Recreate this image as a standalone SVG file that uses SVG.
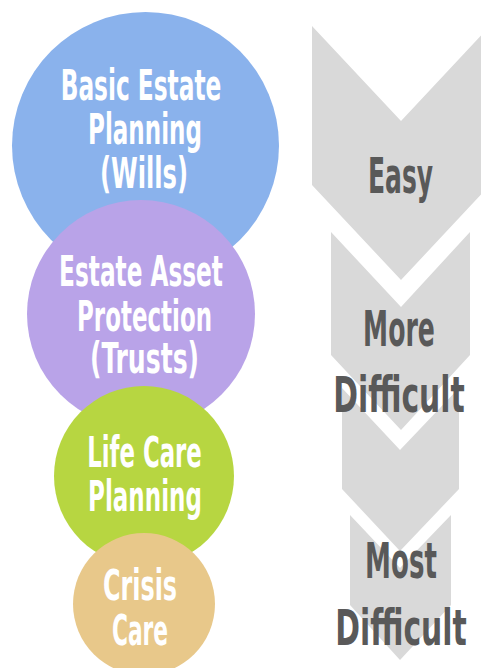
<svg xmlns="http://www.w3.org/2000/svg" width="481" height="668" viewBox="0 0 481 668">
<style>
.chev{fill:#D9D9D9}
.lbl{font-family:"DejaVu Sans Condensed","Liberation Sans",Arial,sans-serif;font-weight:bold;fill:#FFFFFF;font-size:42px;text-anchor:middle}
.rt{font-family:"DejaVu Sans Condensed","Liberation Sans",Arial,sans-serif;font-weight:bold;fill:#595959;font-size:49px;text-anchor:middle}
</style>
<rect width="481" height="668" fill="#FFFFFF"/>
<g id="chevrons">
<polygon id="chev1" class="chev" points="312,26 401,121 490,26 490,185 401,280 312,185"/>
<polygon id="chev2" class="chev" points="331,232 401,307 470,232 470,355 401,430 331,355"/>
<polygon id="chev3" class="chev" points="342,388 400,450 459,388 459,489 400,551 342,489"/>
<polygon id="chev4" class="chev" points="350,515 400,568 451,515 451,605 400,660 350,605"/>
</g>
<g id="node-basic">
<circle cx="145.5" cy="145.5" r="133.5" fill="#8AB2EC"/>
<text class="lbl" transform="translate(141,100) scale(0.78,1)" textLength="206" lengthAdjust="spacingAndGlyphs">Basic Estate</text>
<text class="lbl" transform="translate(145,144) scale(0.78,1)" textLength="146" lengthAdjust="spacingAndGlyphs">Planning</text>
<text class="lbl" transform="translate(144,188) scale(0.78,1)" textLength="113" lengthAdjust="spacingAndGlyphs">(Wills)</text>
</g>
<g id="node-asset">
<circle cx="141" cy="314" r="114" fill="#B9A3E8"/>
<text class="lbl" transform="translate(141,286) scale(0.78,1)" textLength="210" lengthAdjust="spacingAndGlyphs">Estate Asset</text>
<text class="lbl" transform="translate(144.5,331) scale(0.78,1)" textLength="173" lengthAdjust="spacingAndGlyphs">Protection</text>
<text class="lbl" transform="translate(144.5,373) scale(0.78,1)" textLength="140" lengthAdjust="spacingAndGlyphs">(Trusts)</text>
</g>
<g id="node-lifecare">
<circle cx="144" cy="476" r="90" fill="#B7D641"/>
<text class="lbl" transform="translate(144.5,467) scale(0.78,1)" textLength="147" lengthAdjust="spacingAndGlyphs">Life Care</text>
<text class="lbl" transform="translate(145,511) scale(0.78,1)" textLength="146" lengthAdjust="spacingAndGlyphs">Planning</text>
</g>
<g id="node-crisis">
<circle cx="144" cy="604" r="71" fill="#E8C88A"/>
<text class="lbl" transform="translate(140,600) scale(0.78,1)" textLength="95" lengthAdjust="spacingAndGlyphs">Crisis</text>
<text class="lbl" transform="translate(140,645) scale(0.78,1)" textLength="72" lengthAdjust="spacingAndGlyphs">Care</text>
</g>
<g id="labels-right">
<text class="rt" transform="translate(400.5,193) scale(0.74,1)" textLength="88" lengthAdjust="spacingAndGlyphs">Easy</text>
<text class="rt" transform="translate(399,346) scale(0.74,1)" textLength="97" lengthAdjust="spacingAndGlyphs">More</text>
<text class="rt" transform="translate(399,412) scale(0.74,1)" textLength="178" lengthAdjust="spacingAndGlyphs">Difficult</text>
<text class="rt" transform="translate(401,578) scale(0.74,1)" textLength="97" lengthAdjust="spacingAndGlyphs">Most</text>
<text class="rt" transform="translate(401,645) scale(0.74,1)" textLength="178" lengthAdjust="spacingAndGlyphs">Difficult</text>
</g>
</svg>
